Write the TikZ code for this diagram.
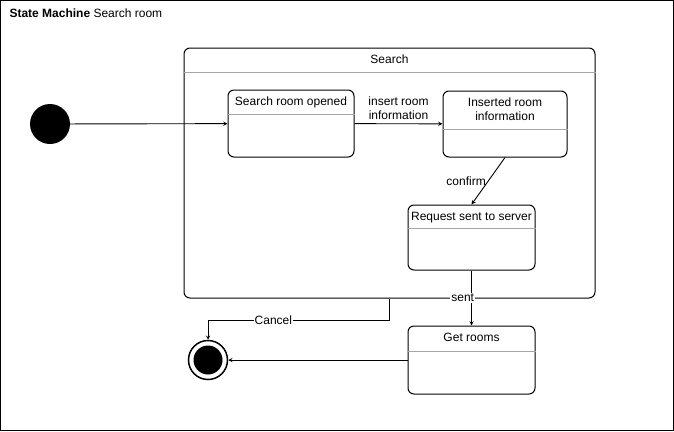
\documentclass[tikz,border=0pt]{standalone}
\usepackage{fontspec}
\setmainfont{Liberation Sans}
\usepackage{tikz}
\usepackage{xcolor}
\tikzset{statebox/.style={draw,rounded corners=6pt,line width=1pt,fill=white,inner sep=0pt}}
\tikzset{divline/.style={gray!70,line width=0.8pt}}
\tikzset{eaxis/.style={->,>=stealth,line width=0.9pt}}
\tikzset{elabel/.style={fill=white,inner sep=1pt,align=center}}
\tikzset{stitle/.style={below=4pt,align=center}}
\newcommand{\divider}[2]{\draw[divline] ([yshift=-#2pt]#1.north west) -- ([yshift=-#2pt]#1.north east);}

\begin{document}
\begin{tikzpicture}[x=1pt,y=-1pt,font=\fontsize{12}{14}\selectfont]
            \useasboundingbox (0,0) rectangle (674,431);
            % draw the frame
            \draw[line width=1pt] (0.5,0.5) rectangle (673,430);
            \node[anchor=west] (title) at (6,13) {\textbf{State Machine} Search room};
            % draw the composite state
            \node[statebox,minimum width=411pt,minimum height=250pt] (search) at (389.5,173) {};
            \divider{search}{25}
            \node[stitle] at (search.north) {Search};
            % draw the states
            \node[statebox,minimum width=126pt,minimum height=67pt] (opened) at (291,123.5) {};
            \divider{opened}{25}
            \node[stitle] at (opened.north) {Search room opened};
            \node[statebox,minimum width=124pt,minimum height=66pt] (inserted) at (505,124) {};
            \divider{inserted}{39}
            \node[stitle] at (inserted.north) {Inserted room\\information};
            \node[statebox,minimum width=127pt,minimum height=65pt] (request) at (471.5,237.5) {};
            \divider{request}{24}
            \node[stitle] at (request.north) {Request sent to server};
            \node[statebox,minimum width=127pt,minimum height=68pt] (getrooms) at (471.5,360) {};
            \divider{getrooms}{26}
            \node[stitle] at (getrooms.north) {Get rooms};
            % draw the start and end
            \node[circle,fill=black,minimum size=40pt,inner sep=0pt] (init) at (50,124) {};
            \node[circle,draw,line width=1.5pt,fill=white,minimum size=39pt,inner sep=0pt,
                  path picture={\fill[black] (path picture bounding box.center) circle (14.5pt);}] (final) at (208,360) {};
            % draw the transitions
            \draw[eaxis] (init) -- (opened);
            \draw[eaxis] (opened) -- node[above,align=center] {insert room\\information} (inserted);
            \draw[eaxis] (inserted.south) -- node[midway,left,inner sep=2pt] {confirm} (request.north);
            \draw[eaxis] (request.south) -- node[midway,left,elabel,xshift=4pt] {sent} (getrooms.north);
            \draw[eaxis] (search.south) -- ++(0,22) -| node[pos=0.32,elabel] {Cancel} (final.north);
            \draw[eaxis] (getrooms.west) -- (final.east);
        \end{tikzpicture}
\end{document}
